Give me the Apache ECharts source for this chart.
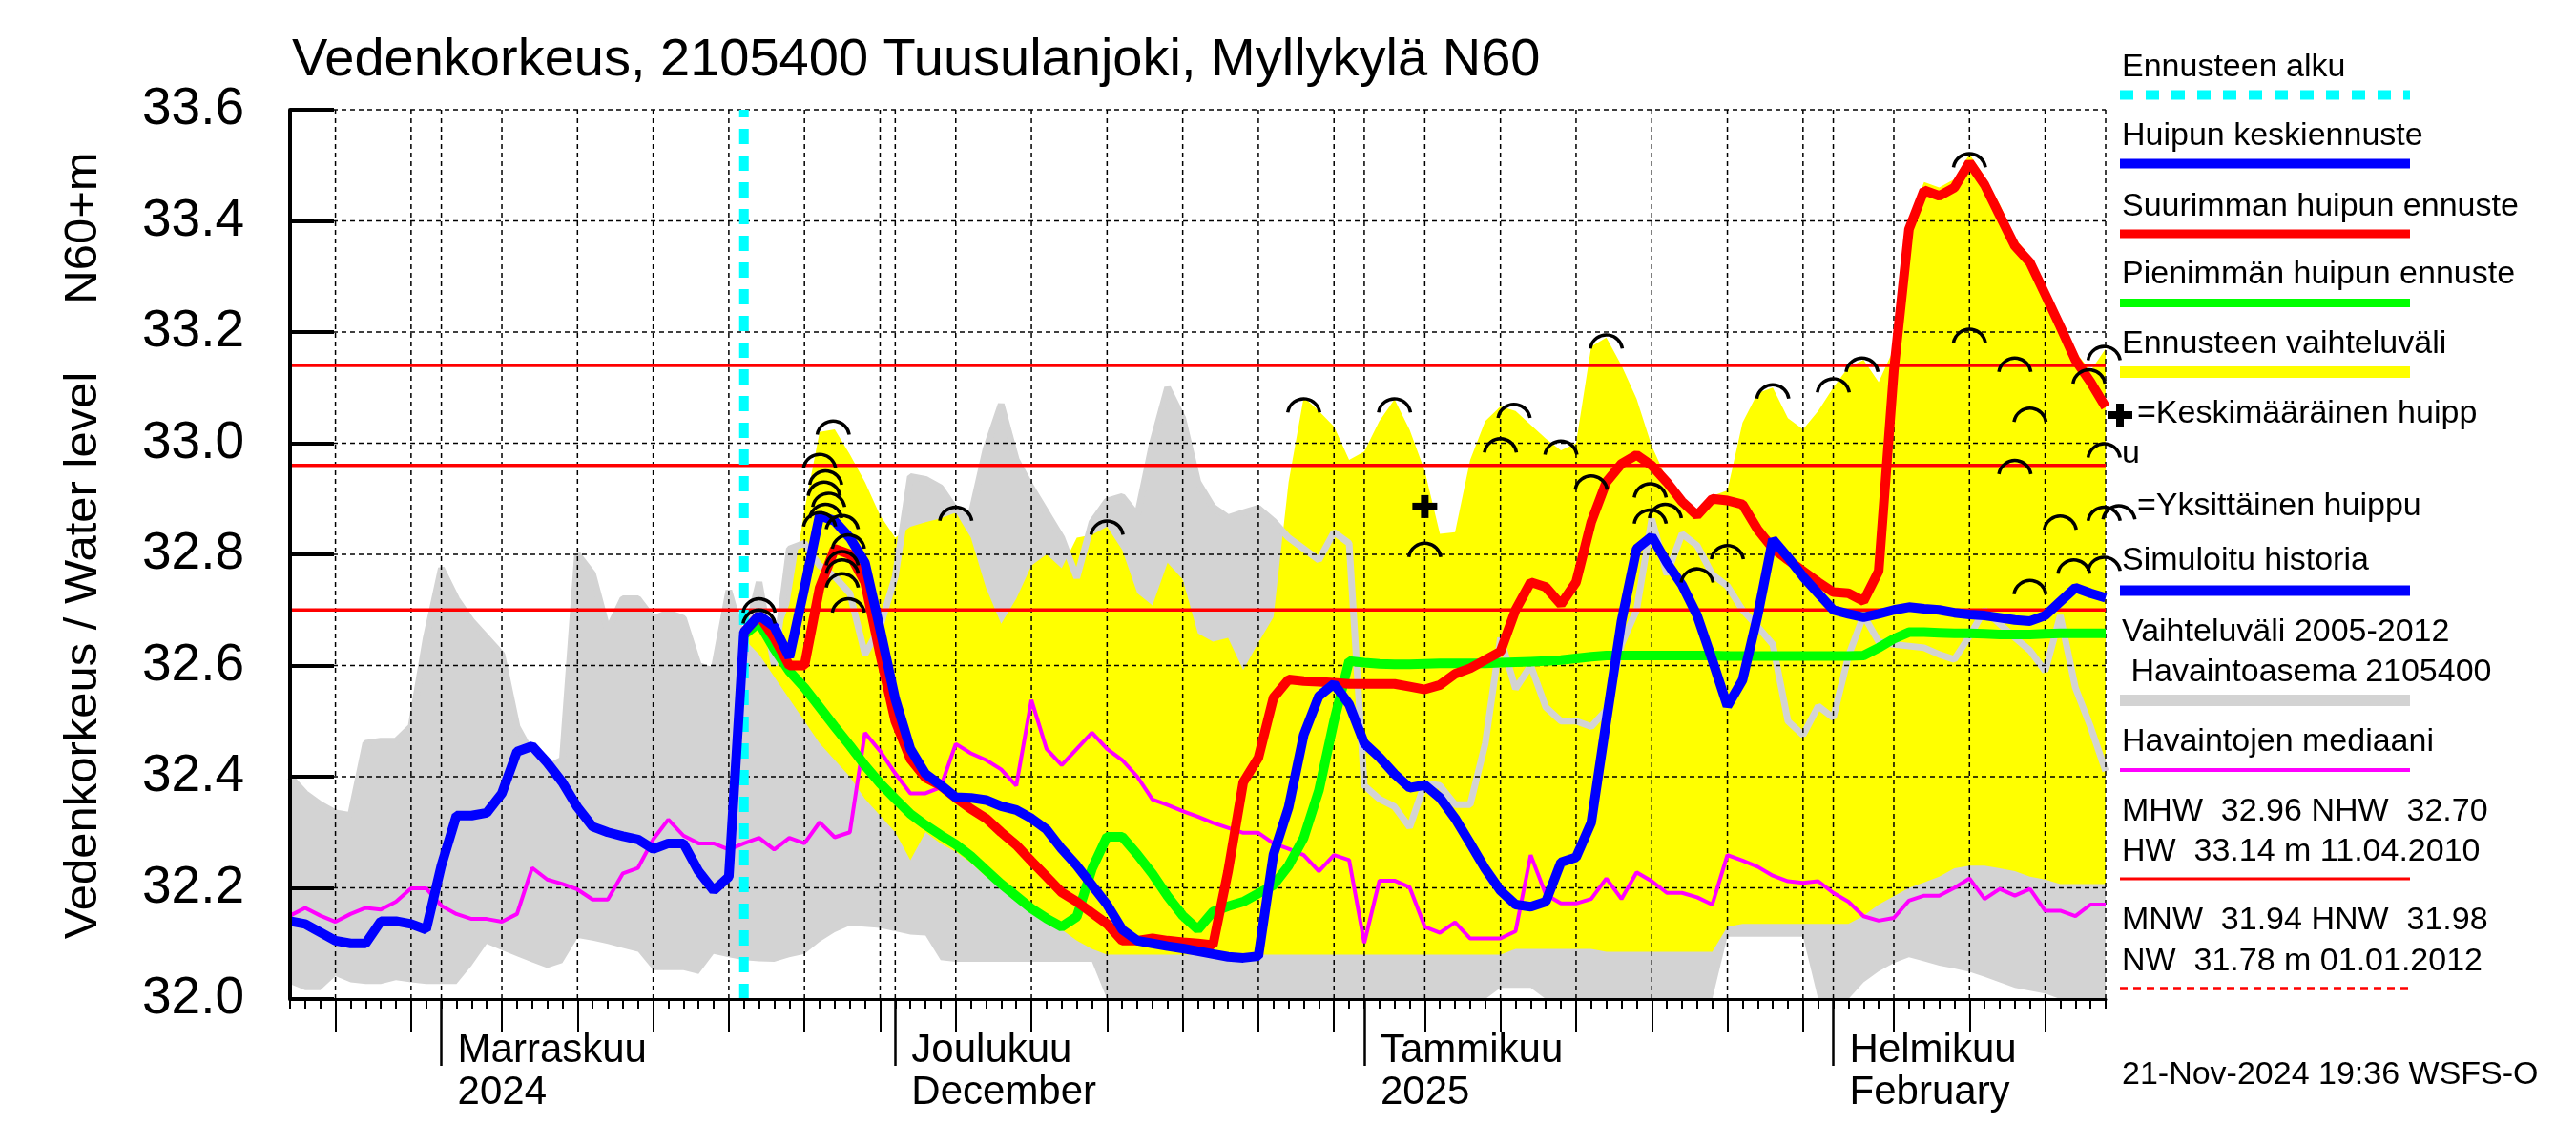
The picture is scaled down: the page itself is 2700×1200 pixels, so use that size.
<!DOCTYPE html>
<html>
<head>
<meta charset="utf-8">
<script src="https://cdn.jsdelivr.net/npm/echarts@6/dist/echarts.min.js"></script>
<style>html,body{margin:0;padding:0;background:#fff}#c{width:2700px;height:1200px}</style>
</head>
<body>
<div id="c"></div>
<script>
// ---- Data (day index: 0 = 1 Nov 2024) ----
const startHist = -10;          // 22 Oct 2024
const startFc = 20;             // 21 Nov 2024, forecast start
const xMin = -10, xMax = 110;   // 22 Oct 2024 .. 19 Feb 2025
const yMin = 32.0, yMax = 33.6, yStep = 0.2;
const monthTickDays = [0, 30, 61, 92];
const monthLabels = ['Marraskuu\n2024', 'Joulukuu\nDecember', 'Tammikuu\n2025', 'Helmikuu\nFebruary'];
const fiveDayTicks = [-7, -2, 4, 9, 14, 19, 24, 29, 34, 39, 44, 49, 54, 59, 65, 70, 75, 80, 85, 90, 96, 101, 106];
const gridDays = [-7, -2, 0, 4, 9, 14, 19, 24, 29, 30, 34, 39, 44, 49, 54, 59, 61, 65, 70, 75, 80, 85, 90, 92, 96, 101, 106, 110];
const yGridValues = [32.2, 32.4, 32.6, 32.8, 33.0, 33.2, 33.4, 33.6];
const refLevels = [33.14, 32.96, 32.70];

// observed range 2005-2012 (gray band), days -10..110
const grayUpper = [
32.40, 32.37, 32.35, 32.335, 32.33, 32.46, 32.464, 32.464, 32.49, 32.65,
32.775, 32.72, 32.68, 32.65, 32.62, 32.49, 32.44, 32.417, 32.43, 32.80,
32.765, 32.663, 32.72, 32.72, 32.684, 32.695, 32.685, 32.60, 32.59, 32.735,
32.64, 32.75, 32.60, 32.81, 32.82, 32.78, 32.76, 32.73, 32.62, 32.67,
32.76, 32.94, 32.935, 32.92, 32.88, 32.87, 32.99, 33.07, 32.97, 32.92,
32.875, 32.83, 32.758, 32.858, 32.896, 32.904, 32.87, 33.0, 33.1, 33.045,
32.93, 32.885, 32.866, 32.875, 32.883, 32.86, 32.83, 32.81, 32.79, 32.84,
32.82, 32.384, 32.36, 32.346, 32.309, 32.388, 32.384, 32.35, 32.35, 32.46,
32.65, 32.558, 32.60, 32.525, 32.50, 32.50, 32.49, 32.52, 32.638, 32.70,
32.864, 32.764, 32.837, 32.816, 32.764, 32.743, 32.70, 32.67, 32.638, 32.50,
32.475, 32.527, 32.506, 32.617, 32.69, 32.643, 32.638, 32.635, 32.632, 32.62,
32.611, 32.653, 32.70, 32.675, 32.65, 32.627, 32.59, 32.69, 32.56, 32.49, 32.41];
const grayLower = [
32.027, 32.016, 32.016, 32.041, 32.03, 32.027, 32.027, 32.034, 32.03, 32.027,
32.027, 32.027, 32.06, 32.099, 32.088, 32.077, 32.066, 32.056, 32.065, 32.11,
32.105, 32.099, 32.092, 32.085, 32.052, 32.052, 32.052, 32.045, 32.081, 32.075,
32.07, 32.068, 32.067, 32.075, 32.081, 32.103, 32.12, 32.132, 32.13, 32.128,
32.122, 32.116, 32.114, 32.07, 32.067, 32.067, 32.067, 32.067, 32.067, 32.067,
32.067, 32.067, 32.067, 32.067, 31.97, 31.97, 31.97, 31.97, 31.97, 31.97,
31.97, 31.97, 31.97, 31.97, 31.97, 31.97, 31.97, 31.97, 31.97, 31.97,
31.97, 31.97, 31.97, 31.97, 31.97, 31.97, 31.97, 31.97, 31.97, 31.97,
32.02, 32.02, 32.02, 31.97, 31.99, 31.99, 31.99, 31.99, 31.99, 31.99,
31.99, 31.99, 31.99, 31.99, 31.99, 32.112, 32.112, 32.112, 32.112, 32.112,
32.112, 31.97, 31.96, 31.98, 32.03, 32.05, 32.065, 32.075, 32.068, 32.06,
32.055, 32.049, 32.04, 32.03, 32.02, 32.015, 32.01, 31.99, 31.985, 31.985, 31.985];

// forecast range (yellow band), days 20..110
const fcUpper = [
32.66, 32.70, 32.64, 32.71, 32.88, 33.02, 33.025, 32.98, 32.93, 32.87,
32.83, 32.85, 32.858, 32.865, 32.875, 32.83, 32.74, 32.675, 32.72, 32.78,
32.80, 32.775, 32.83, 32.835, 32.85, 32.808, 32.73, 32.708, 32.785, 32.755,
32.658, 32.643, 32.65, 32.592, 32.641, 32.687, 32.93, 33.083, 33.058, 33.03,
32.97, 32.985, 33.04, 33.079, 33.024, 32.95, 32.837, 32.84, 32.97, 33.04,
33.066, 33.058, 33.033, 33.008, 32.987, 33.0, 33.174, 33.19, 33.14, 33.08,
32.995, 32.935, 32.9, 32.875, 32.905, 32.915, 33.037, 33.09, 33.1, 33.045,
33.025, 33.058, 33.1, 33.137, 33.15, 33.11, 33.17, 33.4, 33.47, 33.46,
33.475, 33.52, 33.48, 33.43, 33.37, 33.335, 33.275, 33.215, 33.165, 33.13, 33.17];
const fcLower = [
32.648, 32.62, 32.58, 32.54, 32.50, 32.46, 32.43, 32.40, 32.36, 32.33,
32.30, 32.25, 32.30, 32.28, 32.265, 32.245, 32.22, 32.2, 32.18, 32.16,
32.14, 32.125, 32.105, 32.09, 32.08, 32.08, 32.08, 32.08, 32.08, 32.08,
32.08, 32.08, 32.08, 32.08, 32.08, 32.08, 32.08, 32.08, 32.08, 32.08,
32.08, 32.08, 32.08, 32.08, 32.08, 32.08, 32.08, 32.08, 32.08, 32.08,
32.08, 32.09, 32.09, 32.09, 32.09, 32.09, 32.09, 32.085, 32.085, 32.085,
32.085, 32.085, 32.085, 32.085, 32.085, 32.13, 32.135, 32.135, 32.135, 32.135,
32.135, 32.135, 32.135, 32.135, 32.15, 32.17, 32.185, 32.2, 32.21, 32.22,
32.235, 32.24, 32.24, 32.235, 32.23, 32.22, 32.215, 32.207, 32.207, 32.207, 32.207];

// simulated history + mean peak forecast (blue), days -10..110
const meanPeak = [
32.14, 32.135, 32.12, 32.105, 32.10, 32.10, 32.14, 32.14, 32.135, 32.125,
32.24, 32.33, 32.33, 32.335, 32.37, 32.445, 32.455, 32.425, 32.39, 32.345,
32.31, 32.30, 32.293, 32.287, 32.27, 32.28, 32.28, 32.23, 32.195, 32.22,
32.66, 32.69, 32.67, 32.615, 32.74, 32.87, 32.86, 32.83, 32.785, 32.665,
32.54, 32.45, 32.405, 32.385, 32.363, 32.362, 32.358, 32.347, 32.34, 32.325,
32.305, 32.27, 32.24, 32.205, 32.17, 32.125, 32.105, 32.1, 32.095, 32.091,
32.086, 32.081, 32.076, 32.074, 32.077, 32.26, 32.345, 32.475, 32.545, 32.567,
32.53, 32.46, 32.435, 32.405, 32.38, 32.385, 32.362, 32.325, 32.28, 32.234,
32.195, 32.17, 32.166, 32.175, 32.246, 32.255, 32.317, 32.50, 32.68, 32.81,
32.832, 32.785, 32.745, 32.69, 32.61, 32.527, 32.574, 32.69, 32.827, 32.795,
32.76, 32.73, 32.70, 32.693, 32.687, 32.693, 32.70, 32.705, 32.702, 32.70,
32.695, 32.692, 32.69, 32.686, 32.682, 32.68, 32.69, 32.715, 32.74, 32.73, 32.722];

// highest peak forecast (red), days 20..110
const maxPeak = [
32.66, 32.69, 32.65, 32.60, 32.60, 32.74, 32.81, 32.80, 32.75, 32.62,
32.50, 32.432, 32.398, 32.384, 32.362, 32.342, 32.325, 32.30, 32.277, 32.248,
32.22, 32.192, 32.175, 32.155, 32.135, 32.105, 32.105, 32.109, 32.105, 32.102,
32.10, 32.097, 32.23, 32.39, 32.434, 32.542, 32.575, 32.572, 32.571, 32.569,
32.567, 32.567, 32.567, 32.567, 32.562, 32.557, 32.565, 32.585, 32.595, 32.61,
32.625, 32.70, 32.75, 32.741, 32.71, 32.75, 32.858, 32.93, 32.963, 32.979,
32.96, 32.93, 32.895, 32.87, 32.9, 32.897, 32.89, 32.845, 32.811, 32.79,
32.77, 32.75, 32.732, 32.73, 32.716, 32.77, 33.13, 33.385, 33.455, 33.445,
33.46, 33.505, 33.465, 33.41, 33.355, 33.325, 33.268, 33.21, 33.15, 33.11, 33.065];

// lowest peak forecast (green), days 20..110
const minPeak = [
32.655, 32.677, 32.63, 32.59, 32.56, 32.525, 32.49, 32.456, 32.42, 32.388,
32.36, 32.333, 32.313, 32.295, 32.278, 32.257, 32.232, 32.207, 32.185, 32.163,
32.145, 32.13, 32.148, 32.234, 32.292, 32.292, 32.26, 32.225, 32.185, 32.15,
32.125, 32.157, 32.167, 32.175, 32.19, 32.205, 32.24, 32.29, 32.375, 32.5,
32.608, 32.605, 32.603, 32.602, 32.602, 32.603, 32.604, 32.604, 32.604, 32.604,
32.605, 32.606, 32.607, 32.608, 32.61, 32.613, 32.616, 32.618, 32.618, 32.618,
32.618, 32.618, 32.618, 32.618, 32.618, 32.617, 32.617, 32.617, 32.617, 32.617,
32.617, 32.617, 32.617, 32.617, 32.618, 32.632, 32.648, 32.66, 32.66, 32.659,
32.658, 32.658, 32.657, 32.656, 32.656, 32.656, 32.657, 32.658, 32.658, 32.658, 32.658];

// median of observations (magenta), days -10..110
const obsMedian = [
32.15, 32.164, 32.15, 32.139, 32.153, 32.164, 32.161, 32.175, 32.199, 32.199,
32.168, 32.153, 32.144, 32.144, 32.139, 32.153, 32.236, 32.215, 32.207, 32.197,
32.179, 32.179, 32.226, 32.236, 32.287, 32.323, 32.294, 32.28, 32.28, 32.269,
32.28, 32.29, 32.269, 32.29, 32.28, 32.318, 32.291, 32.30, 32.479, 32.446,
32.406, 32.37, 32.37, 32.381, 32.459, 32.442, 32.43, 32.413, 32.384, 32.538,
32.45, 32.421, 32.45, 32.479, 32.45, 32.43, 32.4, 32.359, 32.349, 32.338,
32.328, 32.317, 32.308, 32.299, 32.299, 32.28, 32.27, 32.259, 32.23, 32.259,
32.25, 32.101, 32.213, 32.213, 32.201, 32.13, 32.119, 32.138, 32.109, 32.109,
32.109, 32.122, 32.259, 32.188, 32.172, 32.172, 32.18, 32.217, 32.18, 32.228,
32.212, 32.191, 32.191, 32.183, 32.17, 32.259, 32.249, 32.238, 32.222, 32.212,
32.209, 32.212, 32.191, 32.175, 32.149, 32.141, 32.146, 32.177, 32.186, 32.186,
32.2, 32.217, 32.18, 32.198, 32.186, 32.198, 32.159, 32.159, 32.149, 32.17, 32.17];

// individual peaks (arcs) [day, level]
const peakArcs = [
[21.0, 32.72], [21.0, 32.70],
[25.9, 33.04], [25.0, 32.98], [25.4, 32.95], [25.3, 32.93], [25.6, 32.91], [25.4, 32.89], [25.0, 32.875],
[26.5, 32.87], [26.9, 32.835], [26.5, 32.805], [26.5, 32.79], [26.5, 32.765], [26.9, 32.72],
[34.0, 32.885], [44.0, 32.86], [57.0, 33.08], [63.0, 33.08], [65.0, 32.82], [70.9, 33.07], [70.0, 33.008],
[74.0, 33.004], [76.0, 32.941], [77.0, 33.195], [79.9, 32.927], [79.9, 32.88], [80.9, 32.89], [83.0, 32.774],
[85.0, 32.816], [88.0, 33.105], [92.0, 33.116], [93.9, 33.153], [101.0, 33.205], [101.0, 33.521],
[104.0, 33.153], [105.0, 33.063], [104.0, 32.969], [107.0, 32.869], [105.0, 32.753], [107.9, 32.79],
[108.9, 33.132], [109.9, 33.174], [109.9, 32.999], [109.9, 32.885], [109.9, 32.795]];
const meanPeakMark = [[65.0, 32.886]];

const titleText = 'Vedenkorkeus, 2105400 Tuusulanjoki, Myllykylä N60';
const yTitle1 = 'Vedenkorkeus / Water level';
const yTitle2 = 'N60+m';
const legendTexts = {
  fcStart: 'Ennusteen alku', mean: 'Huipun keskiennuste', max: 'Suurimman huipun ennuste',
  min: 'Pienimmän huipun ennuste', range: 'Ennusteen vaihteluväli',
  meanPk1: '=Keskimääräinen huipp', meanPk2: 'u', single: '=Yksittäinen huippu',
  sim: 'Simuloitu historia', obs1: 'Vaihteluväli 2005-2012', obs2: ' Havaintoasema 2105400',
  median: 'Havaintojen mediaani',
  hw1: 'MHW  32.96 NHW  32.70', hw2: 'HW  33.14 m 11.04.2010',
  nw1: 'MNW  31.94 HNW  31.98', nw2: 'NW  31.78 m 01.01.2012',
  stamp: '21-Nov-2024 19:36 WSFS-O'
};

// ---- Build ----
const FONT = "'Liberation Sans', Arial, Helvetica, sans-serif";
const C = {gray:'#d3d3d3', yellow:'#ffff00', blue:'#0000ff', red:'#ff0000', green:'#00ff00', magenta:'#ff00ff', cyan:'#00ffff'};
function pairs(start, arr) { return arr.map((v, i) => [start + i, v]); }
function triples(start, lo, hi) { return lo.map((v, i) => [start + i, v, hi[i]]); }
function line(name, start, arr, color, width, z) {
  return {name, type:'line', data: pairs(start, arr), symbol:'none', showSymbol:false,
    lineStyle:{color, width}, z, silent:true, animation:false};
}
function txt(text, x, y, size, align, rotation) {
  const a = align || 'left';
  return {type:'text', x, y, rotation: rotation || 0, silent:true, z:50,
    style:{text, font: size + 'px ' + FONT, fill:'#000', align:a, verticalAlign:'middle', textAlign:a, textVerticalAlign:'middle'}};
}
function lgLine(y, color, width, dash) {
  return {type:'line', silent:true, z:50, shape:{x1:2222, y1:y, x2:2526, y2:y}, style:{stroke:color, lineWidth:width, lineDash: dash || null}};
}
const LX = 2224, LF = 34;
const graphics = [
  txt(titleText, 306, 64, 56),
  txt(yTitle1, 87, 687, 49, 'center', Math.PI / 2),
  txt(yTitle2, 87, 239, 49, 'center', Math.PI / 2),
  txt(legendTexts.fcStart, LX, 71, LF), lgLine(99.5, C.cyan, 10, [14, 13]),
  txt(legendTexts.mean, LX, 143, LF), lgLine(171.5, C.blue, 10),
  txt(legendTexts.max, LX, 217, LF), lgLine(245, C.red, 9),
  txt(legendTexts.min, LX, 288, LF), lgLine(317.5, C.green, 9),
  txt(legendTexts.range, LX, 361, LF), lgLine(390, C.yellow, 12),
  {type:'rect', silent:true, z:50, shape:{x:2209, y:431, width:26, height:8}, style:{fill:'#000'}},
  {type:'rect', silent:true, z:50, shape:{x:2218, y:423, width:8, height:24}, style:{fill:'#000'}},
  txt(legendTexts.meanPk1, 2240, 434, LF), txt(legendTexts.meanPk2, LX, 476, LF),
  {type:'arc', silent:true, z:50, shape:{cx:2221, cy:547, r:17, startAngle:Math.PI*1.05, endAngle:Math.PI*1.95, clockwise:true}, style:{stroke:'#000', fill:'none', lineWidth:3.5}},
  txt(legendTexts.single, 2240, 531, LF),
  txt(legendTexts.sim, LX, 588, LF), lgLine(619, C.blue, 11),
  txt(legendTexts.obs1, LX, 663, LF), txt(legendTexts.obs2, LX, 705, LF), lgLine(734, C.gray, 12),
  txt(legendTexts.median, LX, 778, LF), lgLine(807, C.magenta, 4),
  txt(legendTexts.hw1, LX, 851, LF), txt(legendTexts.hw2, LX, 893, LF), lgLine(921, C.red, 3),
  txt(legendTexts.nw1, LX, 965, LF), txt(legendTexts.nw2, LX, 1008, LF), lgLine(1036, C.red, 3.5, [8, 6]),
  txt(legendTexts.stamp, LX, 1127, LF)
];

function vLineRender(color, width, dash) {
  return function (params, api) {
    const d = api.value(0);
    const a = api.coord([d, yMin]), b = api.coord([d, yMax]);
    return {type:'line', shape:{x1:a[0], y1:a[1], x2:b[0], y2:b[1]}, style:{stroke:color, lineWidth:width, lineDash:dash || null}};
  };
}
function hLineRender(color, width, dash) {
  return function (params, api) {
    const v = api.value(1);
    const a = api.coord([xMin, v]), b = api.coord([xMax, v]);
    return {type:'line', shape:{x1:a[0], y1:a[1], x2:b[0], y2:b[1]}, style:{stroke:color, lineWidth:width, lineDash:dash || null}};
  };
}
// band polygon: built once (on the first item) from all items of the series, through the axis scales
function bandRender(color) {
  return function (params, api) {
    if (params.dataIndexInside !== 0) return null;
    const n = params.dataInsideLength;
    const cs = params.coordSys;
    const top = cs.y, bottom = cs.y + cs.height;
    const clampY = y => Math.min(Math.max(y, top), bottom);
    const up = [], lo = [];
    for (let i = 0; i < n; i++) {
      const x = api.value(0, i);
      const pl = api.coord([x, api.value(1, i)]);
      const pu = api.coord([x, api.value(2, i)]);
      lo.push([pl[0], clampY(pl[1])]);
      up.push([pu[0], clampY(pu[1])]);
    }
    return {type:'polygon', shape:{points: up.concat(lo.reverse())}, style:{fill:color, stroke:null}};
  };
}

const series = [
  {type:'custom', z:1, silent:true, encode:{x:0, y:[1, 2]}, data: triples(startHist, grayLower, grayUpper), renderItem: bandRender(C.gray)},
  {type:'custom', z:2, silent:true, encode:{x:0, y:[1, 2]}, data: triples(startFc, fcLower, fcUpper), renderItem: bandRender(C.yellow)},
  line('obsUpperEdge', startHist, grayUpper, C.gray, 7, 3),
  {type:'custom', z:4, silent:true, data: gridDays.map(d => [d, yMin]), renderItem: vLineRender('#000', 1.5, [5, 4])},
  {type:'custom', z:4, silent:true, data: yGridValues.map(v => [xMin, v]), renderItem: hLineRender('#000', 1.5, [5, 4])},
  {type:'custom', z:5, silent:true, data: refLevels.map(v => [xMin, v]), renderItem: hLineRender(C.red, 3.5)},
  line('median', startHist, obsMedian, C.magenta, 4, 6),
  {type:'custom', z:7, silent:true, data: [[startFc, yMin]], renderItem: vLineRender(C.cyan, 10, [16, 12])},
  line('min', startFc, minPeak, C.green, 10, 8),
  line('max', startFc, maxPeak, C.red, 10, 9),
  line('mean', startHist, meanPeak, C.blue, 10, 10),
  {type:'custom', z:11, silent:true, data: peakArcs, renderItem: function (params, api) {
    const p = api.coord([api.value(0), api.value(1)]);
    return {type:'arc', shape:{cx:p[0], cy:p[1] + 17, r:17, startAngle:Math.PI*1.05, endAngle:Math.PI*1.95, clockwise:true},
      style:{stroke:'#000', fill:'none', lineWidth:3.5}};
  }},
  {type:'custom', z:12, silent:true, data: meanPeakMark, renderItem: function (params, api) {
    const p = api.coord([api.value(0), api.value(1)]);
    return {type:'group', children:[
      {type:'rect', shape:{x:p[0]-13, y:p[1]-4, width:26, height:8}, style:{fill:'#000'}},
      {type:'rect', shape:{x:p[0]-4, y:p[1]-12, width:8, height:24}, style:{fill:'#000'}}]};
  }}
];

const baseX = {type:'value', min:xMin, max:xMax, position:'bottom', z:20, splitLine:{show:false}};
const option = {
  animation:false,
  backgroundColor:'#ffffff',
  grid:{left:304, right:493, top:115, bottom:153, containLabel:false, outerBoundsMode:'none'},
  xAxis:[
    Object.assign({}, baseX, {interval:1,
      axisLine:{show:true, onZero:false, lineStyle:{color:'#000', width:3}},
      axisTick:{show:true, length:10, lineStyle:{color:'#000', width:2}},
      axisLabel:{show:false}}),
    Object.assign({}, baseX, {
      axisLine:{show:false, onZero:false},
      axisTick:{show:true, length:35, customValues: fiveDayTicks, lineStyle:{color:'#000', width:2}},
      axisLabel:{show:false}}),
    Object.assign({}, baseX, {
      axisLine:{show:false, onZero:false},
      axisTick:{show:true, length:70, customValues: monthTickDays, lineStyle:{color:'#000', width:2.5}},
      axisLabel:{show:true, customValues: monthTickDays, formatter: v => monthLabels[monthTickDays.indexOf(v)] || '',
        align:'left', verticalAlign:'top', padding:[0,0,0,17], margin:32, fontSize:42, lineHeight:44, fontFamily:FONT, color:'#000'}})
  ],
  yAxis:{type:'value', min:yMin, max:yMax, interval:yStep, z:20,
    axisLine:{show:true, onZero:false, lineStyle:{color:'#000', width:4}},
    axisTick:{show:true, inside:true, length:46, lineStyle:{color:'#000', width:4}},
    axisLabel:{show:true, margin:48, fontSize:55, fontFamily:FONT, color:'#000', formatter: v => v.toFixed(1)},
    splitLine:{show:false}},
  graphic:{elements: graphics},
  series
};
const chart = echarts.init(document.getElementById('c'), null, {renderer:'canvas', width:2700, height:1200});
chart.setOption(option);
</script>
</body>
</html>
